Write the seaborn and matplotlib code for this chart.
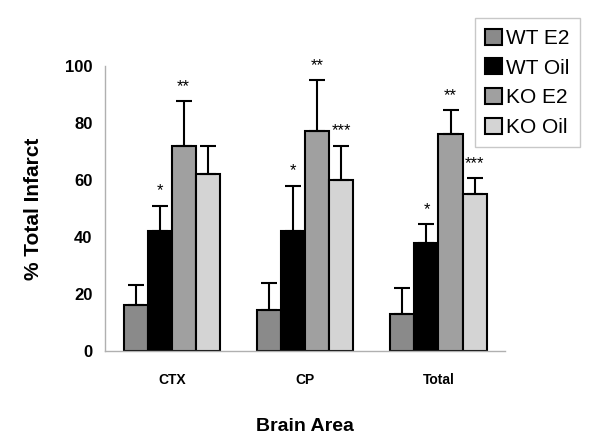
import matplotlib
matplotlib.use("Agg")
import matplotlib.pyplot as plt
import seaborn as sns
import pandas as pd

# values
areas = ["CTX", "CP", "Total"]
groups = ["WT E2", "WT Oil", "KO E2", "KO Oil"]
wt_e2 = [16, 14.5, 13]
wt_oil = [42, 42, 38]
ko_e2 = [72, 77, 76]
ko_oil = [62, 60, 55]
# error bar length (SEM), upper side only
wt_e2_err = [7, 9.5, 9]
wt_oil_err = [9, 16, 6.5]
ko_e2_err = [15.5, 18, 8.5]
ko_oil_err = [10, 12, 5.5]
stars_wt_e2 = ["", "", ""]
stars_wt_oil = ["*", "*", "*"]
stars_ko_e2 = ["**", "**", "**"]
stars_ko_oil = ["", "***", "***"]

colors = ["#8a8a8a", "#000000", "#a0a0a0", "#d4d4d4"]

df = pd.DataFrame({
    "area": areas * 4,
    "group": [g for g in groups for _ in areas],
    "value": wt_e2 + wt_oil + ko_e2 + ko_oil,
})
errs = [wt_e2_err, wt_oil_err, ko_e2_err, ko_oil_err]
stars = [stars_wt_e2, stars_wt_oil, stars_ko_e2, stars_ko_oil]

sns.set_style("white")
plt.rcParams["font.family"] = ["Liberation Sans", "DejaVu Sans"]
plt.rcParams["text.color"] = "black"
plt.rcParams["axes.labelcolor"] = "black"
plt.rcParams["xtick.labelcolor"] = "black"
plt.rcParams["ytick.labelcolor"] = "black"

fig = plt.figure(figsize=(6, 4.42), dpi=100)
ax = fig.add_axes([0.175, 0.206, 0.667, 0.645])

sns.barplot(data=df, x="area", y="value", hue="group", order=areas,
            hue_order=groups, palette=colors, width=0.72, errorbar=None,
            edgecolor="black", linewidth=1.5, ax=ax, legend=False)

for cont, e, st in zip(ax.containers, errs, stars):
    xs = [b.get_x() + b.get_width() / 2 for b in cont]
    hs = [b.get_height() for b in cont]
    ax.errorbar(xs, hs, yerr=[[0] * len(e), e], fmt="none", ecolor="black",
                elinewidth=1.5, capsize=6, capthick=1.5, zorder=1)
    for x, h, ee, s in zip(xs, hs, e, st):
        if s:
            ax.text(x, h + ee + 2.5, s, ha="center", va="bottom", fontsize=12)

ax.set_xlim(-0.5, 2.5)
ax.set_ylim(0, 100)
ax.set_yticks([0, 20, 40, 60, 80, 100])
ax.set_xticks([0.5, 1.5, 2.5], minor=True)
ax.tick_params(axis="x", which="major", length=0, pad=16)
ax.tick_params(axis="x", which="minor", length=5, color="#b0b0b0", direction="out")
ax.tick_params(axis="y", length=5, color="#b0b0b0", direction="out", pad=4)
for lab in ax.get_yticklabels():
    lab.set_fontsize(12)
    lab.set_fontweight("bold")
for lab in ax.get_xticklabels():
    lab.set_fontsize(10)
    lab.set_fontweight("bold")
ax.set_ylabel("% Total Infarct", fontsize=15, fontweight="bold", labelpad=16)
ax.set_xlabel("Brain Area", fontsize=14, fontweight="bold", labelpad=22)

sns.despine(ax=ax)
for sp in ["left", "bottom"]:
    ax.spines[sp].set_color("#b0b0b0")
    ax.spines[sp].set_linewidth(1)

handles = [plt.Rectangle((0, 0), 1, 1, facecolor=c, edgecolor="black", linewidth=1.5)
           for c in colors]
leg = fig.legend(handles, groups, loc="upper right",
                 bbox_to_anchor=(590 / 600, 1 - 8 / 442), fontsize=15,
                 handlelength=0.8, handleheight=0.8, handletextpad=0.2,
                 labelspacing=0.5, borderpad=0.5, fancybox=False,
                 edgecolor="#c8c8c8", framealpha=1)
leg.get_frame().set_linewidth(1)

fig.savefig("out.png", dpi=100)
